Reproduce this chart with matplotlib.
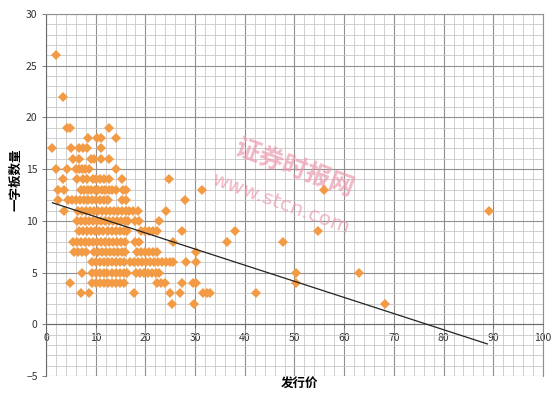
"""Scatter of 一字板数量 against 发行价 with a linear trend line."""

import matplotlib

matplotlib.use("Agg")

import matplotlib.pyplot as plt
import numpy as np

plt.rcParams["font.family"] = ["Noto Sans CJK SC", "DejaVu Sans"]

# points, grouped by row (count value)
price = [
    2.0,                                                  # 26
    3.5,                                                  # 22
    4.2, 4.9, 12.7,                                       # 19
    8.4, 10.3, 11.1, 14.1,                                # 18
    1.2, 5.0, 6.6, 7.4, 8.2, 11.0,                        # 17
    5.4, 6.6, 9.0, 9.6, 11.0, 12.7,                       # 16
    2.0, 4.3, 6.0, 6.6, 7.2, 7.9, 8.7, 14.1,              # 15
    3.5, 6.2, 7.4, 8.2, 9.4, 10.1, 10.9, 11.7, 12.6, 15.3, 24.8,  # 14
    2.4, 3.6, 7.0, 7.7, 8.4, 9.1, 9.8, 10.5, 11.2, 11.9, 12.6, 13.3, 14.0,
    15.4, 16.2, 31.4, 55.9,                               # 13
    2.5, 4.4, 5.2, 6.0, 6.8, 7.6, 8.4, 9.2, 10.0, 10.8, 11.6, 12.4,
    15.3, 16.1, 28.0,                                     # 12
    3.6, 6.4, 7.2, 8.0, 8.8, 9.6, 10.4, 11.2, 12.0, 12.8, 13.6, 14.4,
    15.2, 16.0, 16.8, 17.6, 18.6, 24.1, 89.1,             # 11
    6.2, 7.0, 7.8, 8.6, 9.4, 10.2, 11.0, 11.8, 12.6, 13.4, 14.2, 15.0,
    15.8, 16.6, 17.9, 18.7, 22.7,                         # 10
    6.6, 7.4, 8.2, 9.0, 9.8, 10.6, 11.4, 12.4, 13.2, 14.0, 14.8, 15.6,
    16.4, 19.1, 19.9, 20.7, 21.5, 22.4, 27.3, 38.0, 54.7,  # 9
    5.5, 6.3, 7.1, 7.9, 8.7, 9.5, 10.3, 11.1, 11.9, 12.7, 13.5, 14.3,
    15.1, 15.8, 17.9, 18.8, 25.5, 36.5, 47.6,             # 8
    5.6, 6.4, 7.2, 8.0, 9.7, 10.5, 11.3, 12.1, 12.9, 13.7, 14.5, 15.3,
    15.9, 18.3, 19.1, 19.9, 20.7, 21.5, 22.3, 30.2,       # 7
    9.3, 10.1, 10.9, 11.7, 12.5, 13.3, 14.1, 14.9, 15.6, 16.9, 17.7, 18.5,
    19.3, 20.1, 20.9, 21.7, 22.5, 23.3, 24.1, 24.9, 25.6, 28.1, 30.2,  # 6
    7.2, 9.2, 10.0, 10.8, 11.6, 12.2, 13.2, 14.0, 14.8, 15.6, 16.4, 18.1,
    18.9, 19.7, 20.5, 21.3, 22.1, 22.7, 50.4, 63.0,       # 5
    4.9, 9.3, 10.1, 10.9, 11.7, 12.5, 13.3, 14.1, 14.9, 15.6, 22.4, 23.2,
    23.9, 27.3, 29.5, 30.2, 50.4,                         # 4
    7.1, 8.7, 17.8, 25.0, 27.0, 31.5, 32.3, 33.1, 42.3,   # 3
    25.4, 29.8, 68.2,                                     # 2
]
count = [
    26,
    22,
    19, 19, 19,
    18, 18, 18, 18,
    17, 17, 17, 17, 17, 17,
    16, 16, 16, 16, 16, 16,
    15, 15, 15, 15, 15, 15, 15, 15,
    14, 14, 14, 14, 14, 14, 14, 14, 14, 14, 14,
    13, 13, 13, 13, 13, 13, 13, 13, 13, 13, 13, 13, 13,
    13, 13, 13, 13,
    12, 12, 12, 12, 12, 12, 12, 12, 12, 12, 12, 12,
    12, 12, 12,
    11, 11, 11, 11, 11, 11, 11, 11, 11, 11, 11, 11,
    11, 11, 11, 11, 11, 11, 11,
    10, 10, 10, 10, 10, 10, 10, 10, 10, 10, 10, 10,
    10, 10, 10, 10, 10,
    9, 9, 9, 9, 9, 9, 9, 9, 9, 9, 9, 9,
    9, 9, 9, 9, 9, 9, 9, 9, 9,
    8, 8, 8, 8, 8, 8, 8, 8, 8, 8, 8, 8,
    8, 8, 8, 8, 8, 8, 8,
    7, 7, 7, 7, 7, 7, 7, 7, 7, 7, 7, 7,
    7, 7, 7, 7, 7, 7, 7, 7,
    6, 6, 6, 6, 6, 6, 6, 6, 6, 6, 6, 6,
    6, 6, 6, 6, 6, 6, 6, 6, 6, 6, 6,
    5, 5, 5, 5, 5, 5, 5, 5, 5, 5, 5, 5,
    5, 5, 5, 5, 5, 5, 5, 5,
    4, 4, 4, 4, 4, 4, 4, 4, 4, 4, 4, 4,
    4, 4, 4, 4, 4,
    3, 3, 3, 3, 3, 3, 3, 3, 3,
    2, 2, 2,
]

trend_x = [1.3, 88.8]
trend_y = [11.75, -1.9]

x_label = "发行价"
y_label = "一字板数量"

fig = plt.figure(figsize=(5.58, 3.94), dpi=100)
ax = fig.add_axes([0.0824, 0.0457, 0.8907, 0.9188])

ax.set_xlim(0, 100)
ax.set_ylim(-5, 30)
ax.set_xticks(np.arange(0, 101, 10))
ax.set_xticks(np.arange(0, 101, 2), minor=True)
ax.set_yticks(np.arange(-5, 31, 5))
ax.set_yticks(np.arange(-5, 31, 1), minor=True)
ax.grid(which="major", color="#909090", linewidth=0.8)
ax.grid(which="minor", color="#c8c8c8", linewidth=0.6)
ax.set_axisbelow(True)

for side in ["top", "right"]:
    ax.spines[side].set_color("#909090")
    ax.spines[side].set_linewidth(0.8)
ax.spines["bottom"].set_position(("data", 0))
ax.spines["bottom"].set_color("#6a6a6a")
ax.spines["left"].set_color("#6a6a6a")

ax.tick_params(which="major", length=3, width=0.6, color="#6a6a6a",
               labelsize=7.5, labelcolor="#333333", pad=3)
ax.tick_params(which="minor", length=0)

# watermark
ax.text(50, 15.0, "证券时报网", color="#ec9aae", fontsize=18, rotation=-20,
        ha="center", va="center", alpha=0.7, fontweight="bold", zorder=1)
ax.text(47.2, 11.7, "www.stcn.com", color="#ec9aae", fontsize=14.5, rotation=-20,
        ha="center", va="center", alpha=0.7, family="DejaVu Sans", zorder=1)

ax.plot(price, count, linestyle="none", marker="D", markersize=5.4,
        color="#f39a44", markeredgewidth=0, zorder=3)
ax.plot(trend_x, trend_y, color="#222222", linewidth=0.9, zorder=4)

fig.text(300 / 558, 1 - 383 / 394, x_label, ha="center", va="center",
         fontsize=9, fontweight="bold")
fig.text(16 / 558, 1 - 180 / 394, y_label, ha="center", va="center",
         rotation=90, fontsize=9, fontweight="bold")

fig.savefig("out.png", dpi=100)
